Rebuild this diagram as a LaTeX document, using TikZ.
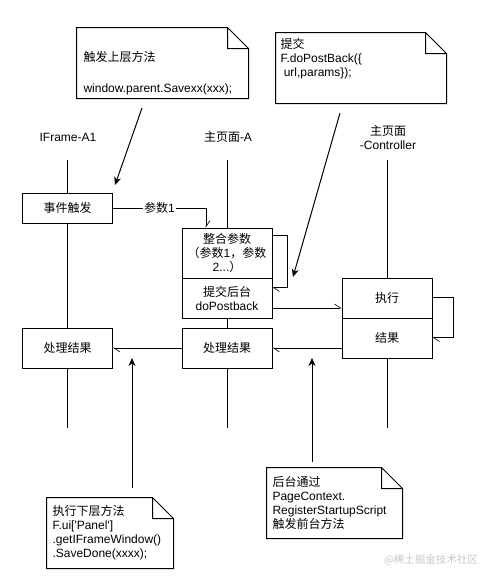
\documentclass[tikz,border=0pt]{standalone}
\usepackage{fontspec}
\setmainfont{Liberation Sans}
\newfontfamily\cjk{Noto Sans CJK SC}
\newcommand{\zh}[1]{{\cjk #1}}
\usetikzlibrary{arrows.meta}

\begin{document}
\begin{tikzpicture}[x=1pt, y=-1pt, line width=1pt,
    font=\fontsize{12}{14}\selectfont,
    box/.style={draw, fill=white, minimum width=90pt, inner sep=1pt, align=center},
    note/.style={minimum height=70pt, inner sep=0pt},
    notetext/.style={anchor=west, align=left, inner sep=0pt},
    msg/.style={-{Straight Barb[harpoon, length=6pt, width=8pt, line width=0.6pt]}},
    hint/.style={-{Stealth[length=8pt, width=7pt, inset=2.5pt]}}]

    \useasboundingbox (0,0) rectangle (493,582);

    % Koppen van de levenslijnen
    \node (lblA1) at (68,137) {IFrame-A1};
    \node (lblA) at (228,137) {\zh{主页面}-A};
    \node[align=center] (lblC) at (388,137.5) {\zh{主页面}\\-Controller};

    % Levenslijnen
    \coordinate (topA1) at (67.5,160);
    \coordinate (endA1) at (67.5,428);
    \coordinate (topA) at (227,160);
    \coordinate (endA) at (227,428);
    \coordinate (topC) at (387,160);
    \coordinate (endC) at (387,428);
    \draw (topA1) -- (endA1);
    \draw (topA) -- (endA);
    \draw (topC) -- (endC);

    % IFrame-A1
    \node[box, minimum height=30pt] (ev) at (67.5,208) {\zh{事件触发}};
    \node[box, minimum height=40pt] (resA1) at (67.5,348) {\zh{处理结果}};

    % Hoofdpagina
    \node[box, minimum height=50pt] (merge) at (227,253)
      {\zh{整合参数}\\\zh{（参数}1\zh{，参数}\\2...\zh{）}};
    \node[box, minimum height=40pt] (submit) at (227,298) {\zh{提交后台}\\doPostback};
    \node[box, minimum height=40pt] (resA) at (227,348) {\zh{处理结果}};

    % Controller
    \node[box, minimum height=40pt] (exec) at (387,298) {\zh{执行}};
    \node[box, minimum height=40pt] (result) at (387,338) {\zh{结果}};

    % Berichten
    \coordinate (in1) at ([xshift=-21pt]merge.north);
    \draw[msg] (ev.east) -| (in1)
      node[pos=0.25, fill=white, inner sep=1pt] {\zh{参数}1};
    \draw[msg] ([yshift=-8pt]merge.north east) -- ++(15,0) |- ([yshift=-10pt]submit.north east);
    \coordinate (out1) at ([yshift=-10pt]submit.east);
    \draw[msg] (out1) -- (out1 -| exec.west);
    \draw[msg] ([yshift=-20pt]exec.north east) -- ++(21,0) |- ([yshift=-20pt]result.north east);
    \coordinate (out2) at ([yshift=-10pt]result.west);
    \draw[msg] (out2) -- (out2 -| resA.east);
    \draw[msg] (resA.west) -- (resA1.east);

    % Notities
    \node[note, minimum width=171pt] (n1) at (162.5,63) {};
    \node[note, minimum width=170pt] (n2) at (361,68) {};
    \node[note, minimum width=126pt] (n3) at (110,533) {};
    \node[note, minimum width=135pt] (n4) at (334.5,503) {};
    \foreach \n in {n1,n2,n3,n4}
      \draw (\n.north west) -- ([xshift=-21pt]\n.north east) -- ([yshift=-21pt]\n.north east)
        -- (\n.south east) -- (\n.south west) -- cycle
        ([xshift=-21pt]\n.north east) |- ([yshift=-21pt]\n.north east);

    \node[notetext] (t1) at (83,73.5) {\zh{触发上层方法}\\[17pt]window.parent.Savexx(xxx);};
    \node[notetext] (t2) at (280,59) {\zh{提交}\\F.doPostBack(\{\\\hspace*{3.3pt}url,params\});};
    \node[notetext] (t3) at (52,533)
      {\zh{执行下层方法}\\F.ui[\textquotesingle Panel\textquotesingle]\\.getIFrameWindow()\\.SaveDone(xxxx);};
    \node[notetext] (t4) at (272,502.5)
      {\zh{后台通过}\\PageContext.\\RegisterStartupScript\\\zh{触发前台方法}};

    % Hulppijlen
    \coordinate (h1s) at (142,108);
    \coordinate (h1e) at (115,185);
    \coordinate (h2s) at (340,113);
    \coordinate (h2e) at (293,277);
    \coordinate (h3s) at (132,488);
    \coordinate (h3e) at (132,358);
    \coordinate (h4s) at (312,462);
    \coordinate (h4e) at (312,358);
    \draw[hint] (h1s) -- (h1e);
    \draw[hint] (h2s) -- (h2e);
    \draw[hint] (h3s) -- (h3e);
    \draw[hint] (h4s) -- (h4e);

    % Watermerk
    \node[text=gray!45, font=\fontsize{10.5}{12}\selectfont] (wm) at (431,560) {\zh{@稀土掘金技术社区}};

\end{tikzpicture}
\end{document}
